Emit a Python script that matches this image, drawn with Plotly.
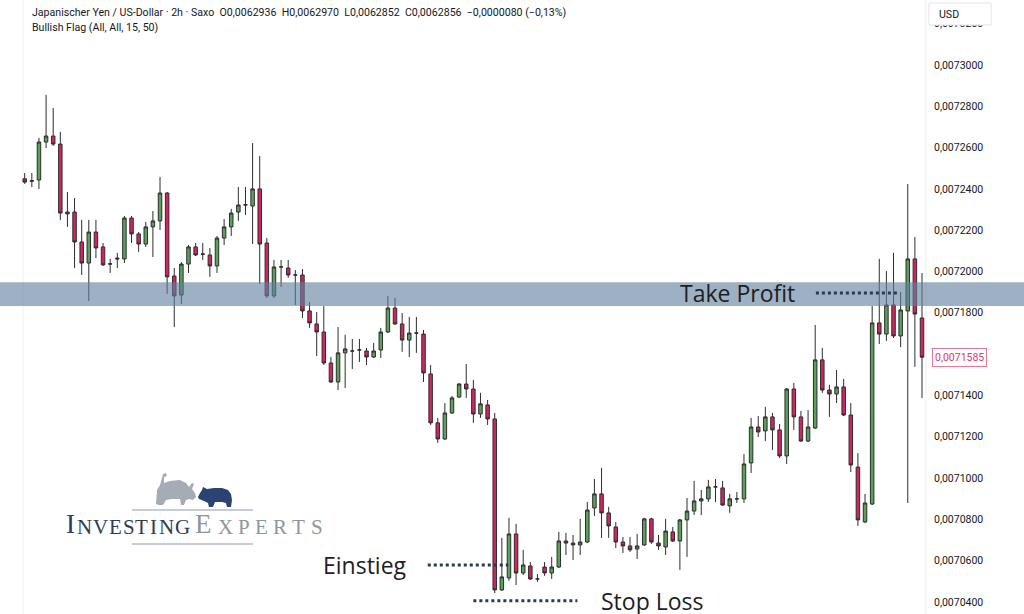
import plotly.graph_objects as go

# ---------------- data ----------------
bar_index = list(range(127))

opens = [
    0.0072449, 0.0072437, 0.0072443, 0.0072627, 0.0072656, 0.0072617, 0.0072279, 0.0072288, 0.0072143, 0.0072041,
    0.0072191, 0.0072119, 0.0072036, 0.0072065, 0.0072061, 0.0072259, 0.0072182, 0.0072133, 0.0072216, 0.0072245,
    0.0072380, 0.0071978, 0.0071886, 0.0072036, 0.0072119, 0.0072085, 0.0072080, 0.0072027, 0.0072162, 0.0072216,
    0.0072288, 0.0072322, 0.0072317, 0.0072400, 0.0072138, 0.0071882, 0.0072022, 0.0072017, 0.0071983, 0.0071983,
    0.0071809, 0.0071746, 0.0071707, 0.0071557, 0.0071465, 0.0071606, 0.0071615, 0.0071620, 0.0071615, 0.0071586,
    0.0071620, 0.0071707, 0.0071823, 0.0071746, 0.0071668, 0.0071702, 0.0071697, 0.0071504, 0.0071267, 0.0071189,
    0.0071315, 0.0071392, 0.0071455, 0.0071431, 0.0071310, 0.0071354, 0.0071286, 0.0070458, 0.0070516, 0.0070729,
    0.0070540, 0.0070574, 0.0070511, 0.0070569, 0.0070540, 0.0070569, 0.0070695, 0.0070685, 0.0070676, 0.0070690,
    0.0070855, 0.0070923, 0.0070831, 0.0070763, 0.0070690, 0.0070671, 0.0070656, 0.0070676, 0.0070802, 0.0070685,
    0.0070666, 0.0070739, 0.0070695, 0.0070797, 0.0070840, 0.0070889, 0.0070899, 0.0070957, 0.0070952, 0.0070865,
    0.0070899, 0.0070899, 0.0071073, 0.0071247, 0.0071228, 0.0071296, 0.0071233, 0.0071107, 0.0071431, 0.0071296,
    0.0071179, 0.0071242, 0.0071572, 0.0071426, 0.0071407, 0.0071441, 0.0071305, 0.0071053, 0.0070787, 0.0070874,
    0.0071751, 0.0071697, 0.0071838, 0.0071688, 0.0071809, 0.0072061, 0.0071775,
]
highs = [
    0.0072477, 0.0072477, 0.0072647, 0.0072855, 0.0072792, 0.0072676, 0.0072385, 0.0072356, 0.0072250, 0.0072250,
    0.0072250, 0.0072138, 0.0072061, 0.0072090, 0.0072269, 0.0072269, 0.0072191, 0.0072240, 0.0072293, 0.0072458,
    0.0072385, 0.0072017, 0.0072046, 0.0072128, 0.0072138, 0.0072138, 0.0072114, 0.0072172, 0.0072254, 0.0072303,
    0.0072409, 0.0072409, 0.0072622, 0.0072559, 0.0072162, 0.0072056, 0.0072056, 0.0072056, 0.0072007, 0.0072012,
    0.0071852, 0.0071804, 0.0071833, 0.0071586, 0.0071731, 0.0071693, 0.0071673, 0.0071673, 0.0071630, 0.0071654,
    0.0071727, 0.0071882, 0.0071872, 0.0071799, 0.0071780, 0.0071780, 0.0071717, 0.0071547, 0.0071291, 0.0071363,
    0.0071397, 0.0071460, 0.0071552, 0.0071475, 0.0071412, 0.0071378, 0.0071315, 0.0070710, 0.0070807, 0.0070778,
    0.0070652, 0.0070593, 0.0070535, 0.0070593, 0.0070618, 0.0070739, 0.0070734, 0.0070724, 0.0070802, 0.0070884,
    0.0070995, 0.0071049, 0.0070860, 0.0070787, 0.0070714, 0.0070714, 0.0070729, 0.0070807, 0.0070807, 0.0070724,
    0.0070802, 0.0070763, 0.0070802, 0.0070903, 0.0070986, 0.0070942, 0.0070991, 0.0070995, 0.0070986, 0.0070923,
    0.0070932, 0.0071116, 0.0071291, 0.0071300, 0.0071344, 0.0071315, 0.0071262, 0.0071436, 0.0071460, 0.0071325,
    0.0071329, 0.0071741, 0.0071630, 0.0071451, 0.0071523, 0.0071480, 0.0071363, 0.0071121, 0.0070923, 0.0071833,
    0.0072061, 0.0072002, 0.0072090, 0.0071901, 0.0072424, 0.0072167, 0.0071993,
]
lows = [
    0.0072424, 0.0072409, 0.0072400, 0.0072598, 0.0072608, 0.0072250, 0.0072216, 0.0072017, 0.0071983, 0.0071857,
    0.0072065, 0.0072027, 0.0071993, 0.0072017, 0.0072041, 0.0072138, 0.0072095, 0.0072119, 0.0072070, 0.0072201,
    0.0071891, 0.0071731, 0.0071843, 0.0071993, 0.0072075, 0.0072056, 0.0071974, 0.0071993, 0.0072128, 0.0072172,
    0.0072245, 0.0072274, 0.0072133, 0.0071940, 0.0071872, 0.0071872, 0.0071925, 0.0071969, 0.0071838, 0.0071775,
    0.0071727, 0.0071591, 0.0071547, 0.0071460, 0.0071426, 0.0071436, 0.0071528, 0.0071562, 0.0071547, 0.0071581,
    0.0071581, 0.0071702, 0.0071741, 0.0071611, 0.0071586, 0.0071606, 0.0071465, 0.0071257, 0.0071170, 0.0071184,
    0.0071310, 0.0071388, 0.0071388, 0.0071267, 0.0071291, 0.0071257, 0.0070443, 0.0070453, 0.0070502, 0.0070482,
    0.0070530, 0.0070506, 0.0070497, 0.0070526, 0.0070511, 0.0070564, 0.0070627, 0.0070603, 0.0070627, 0.0070685,
    0.0070816, 0.0070710, 0.0070710, 0.0070661, 0.0070637, 0.0070642, 0.0070608, 0.0070671, 0.0070681, 0.0070652,
    0.0070627, 0.0070690, 0.0070555, 0.0070618, 0.0070821, 0.0070821, 0.0070884, 0.0070884, 0.0070865, 0.0070831,
    0.0070879, 0.0070879, 0.0071024, 0.0071199, 0.0071179, 0.0071136, 0.0071097, 0.0071068, 0.0071233, 0.0071175,
    0.0071174, 0.0071237, 0.0071412, 0.0071296, 0.0071363, 0.0071300, 0.0071029, 0.0070768, 0.0070782, 0.0070869,
    0.0071649, 0.0071664, 0.0071678, 0.0071634, 0.0070879, 0.0071538, 0.0071388,
]
closes = [
    0.0072433, 0.0072440, 0.0072627, 0.0072656, 0.0072617, 0.0072283, 0.0072288, 0.0072143, 0.0072041, 0.0072191,
    0.0072114, 0.0072032, 0.0072037, 0.0072061, 0.0072259, 0.0072182, 0.0072133, 0.0072216, 0.0072245, 0.0072380,
    0.0071974, 0.0071882, 0.0072036, 0.0072119, 0.0072080, 0.0072084, 0.0072027, 0.0072162, 0.0072216, 0.0072283,
    0.0072322, 0.0072323, 0.0072400, 0.0072133, 0.0071882, 0.0072022, 0.0072022, 0.0071983, 0.0071983, 0.0071809,
    0.0071751, 0.0071707, 0.0071557, 0.0071465, 0.0071606, 0.0071625, 0.0071615, 0.0071620, 0.0071586, 0.0071615,
    0.0071707, 0.0071823, 0.0071746, 0.0071668, 0.0071702, 0.0071702, 0.0071509, 0.0071267, 0.0071189, 0.0071315,
    0.0071388, 0.0071455, 0.0071431, 0.0071310, 0.0071359, 0.0071286, 0.0070458, 0.0070521, 0.0070729, 0.0070540,
    0.0070579, 0.0070511, 0.0070511, 0.0070540, 0.0070569, 0.0070695, 0.0070685, 0.0070676, 0.0070690, 0.0070845,
    0.0070923, 0.0070831, 0.0070768, 0.0070690, 0.0070671, 0.0070652, 0.0070671, 0.0070802, 0.0070690, 0.0070671,
    0.0070743, 0.0070695, 0.0070797, 0.0070840, 0.0070889, 0.0070899, 0.0070957, 0.0070957, 0.0070869, 0.0070899,
    0.0070899, 0.0071068, 0.0071247, 0.0071223, 0.0071296, 0.0071233, 0.0071107, 0.0071431, 0.0071296, 0.0071179,
    0.0071247, 0.0071572, 0.0071426, 0.0071407, 0.0071441, 0.0071305, 0.0071063, 0.0070797, 0.0070879, 0.0071751,
    0.0071697, 0.0071838, 0.0071688, 0.0071814, 0.0072061, 0.0071794, 0.0071585,
]

tick_values = [0.00704, 0.00706, 0.00708, 0.00710, 0.00712, 0.00714, 0.00716, 0.00718,
               0.00720, 0.00722, 0.00724, 0.00726, 0.00728, 0.00730, 0.00732]
tick_labels = ["0,0070400", "0,0070600", "0,0070800", "0,0071000", "0,0071200", "0,0071400",
               "0,0071600", "0,0071800", "0,0072000", "0,0072200", "0,0072400", "0,0072600",
               "0,0072800", "0,0073000", "0,0073200"]

take_profit_zone = [0.0071833, 0.0071948]
take_profit_level = 0.0071896
entry_level = 0.0070579
stop_loss_level = 0.0070405
last_price = 0.0071585
last_price_label = "0,0071585"

header_line1 = ("Japanischer Yen / US-Dollar · 2h · Saxo\u00a0\u00a0O0,0062936\u00a0\u00a0H0,0062970"
                "\u00a0\u00a0L0,0062852\u00a0\u00a0C0,0062856\u00a0\u00a0−0,0000080 (−0,13%)")
header_line2 = "Bullish Flag (All, All, 15, 50)"

# ---------------- figure ----------------
W, H = 1024, 614
PLOT_W = 925


def px(x):
    return x / PLOT_W


def py(y):
    return 1 - y / H


fig = go.Figure()
fig.add_trace(go.Candlestick(
    x=bar_index, open=opens, high=highs, low=lows, close=closes,
    increasing=dict(fillcolor="#5aa25a", line=dict(color="#2d2d2d", width=1)),
    decreasing=dict(fillcolor="#d3255c", line=dict(color="#2d2d2d", width=1)),
    whiskerwidth=0, hoverinfo="skip", showlegend=False,
))

shapes = []
# faint frame lines
shapes.append(dict(type="line", xref="paper", yref="paper", x0=px(23), x1=px(23), y0=0, y1=1,
                   line=dict(color="#eef0f3", width=1), layer="below"))
shapes.append(dict(type="line", xref="paper", yref="paper", x0=px(926), x1=px(926), y0=0, y1=1,
                   line=dict(color="#eceff2", width=1), layer="below"))
# take profit zone
shapes.append(dict(type="rect", xref="paper", yref="y", x0=0, x1=W / PLOT_W,
                   y0=take_profit_zone[0], y1=take_profit_zone[1],
                   fillcolor="rgba(98,128,158,0.62)", line=dict(width=0), layer="above"))
# dotted level lines
dot_line = dict(color="#2b3957", width=3, dash="dot")
shapes.append(dict(type="line", xref="x", yref="y", x0=111.1, x1=122.9,
                   y0=take_profit_level, y1=take_profit_level, line=dot_line, layer="above"))
shapes.append(dict(type="line", xref="x", yref="y", x0=56.6, x1=67.9,
                   y0=entry_level, y1=entry_level, line=dot_line, layer="above"))
shapes.append(dict(type="line", xref="x", yref="y", x0=63.0, x1=77.6,
                   y0=stop_loss_level, y1=stop_loss_level, line=dot_line, layer="above"))
# USD box
shapes.append(dict(type="rect", xref="paper", yref="paper", x0=px(929), x1=px(991), y0=py(25), y1=py(3),
                   fillcolor="white", line=dict(color="#e0e3eb", width=1), layer="above"))
# logo lines
for yy in (510, 544):
    shapes.append(dict(type="line", xref="paper", yref="paper", x0=px(132), x1=px(253), y0=py(yy), y1=py(yy),
                       line=dict(color="#c9cdd3", width=2), layer="above"))


def poly(points, color):
    d = "M " + " L ".join(f"{px(a):.5f},{py(b):.5f}" for a, b in points) + " Z"
    return dict(type="path", xref="paper", yref="paper", path=d, fillcolor=color,
                line=dict(width=0), layer="above")


bull = [(156, 504), (157, 490), (160, 485), (162, 478), (163, 474), (166, 473), (167, 476), (164, 477),
        (164, 483), (170, 481), (180, 480), (186, 483), (189, 487), (192, 483), (194, 484), (192, 489),
        (195, 493), (196, 497), (193, 500), (189, 499), (186, 500), (184, 505), (181, 505), (180, 499),
        (172, 499), (166, 500), (163, 505), (159, 505)]
bear = [(198, 497), (200, 493), (202, 490), (203, 487), (205, 488), (207, 489), (214, 488), (222, 488),
        (228, 490), (231, 494), (232, 500), (231, 507), (227, 507), (226, 503), (222, 502), (215, 502),
        (213, 507), (209, 507), (208, 503), (204, 501), (199, 499)]
shapes.append(poly(bull, "#a5acb5"))
shapes.append(poly(bear, "#2c4272"))

annotations = []
hdr_font = dict(family="Roboto, Liberation Sans, sans-serif", size=10.6, color="#131722")
annotations.append(dict(text=header_line1, xref="paper", yref="paper", x=px(30), y=py(12),
                        xanchor="left", yanchor="middle", showarrow=False, font=hdr_font))
annotations.append(dict(text=header_line2, xref="paper", yref="paper", x=px(30), y=py(27),
                        xanchor="left", yanchor="middle", showarrow=False, font=hdr_font))
annotations.append(dict(text="USD", xref="paper", yref="paper", x=px(937), y=py(14),
                        xanchor="left", yanchor="middle", showarrow=False, font=hdr_font))
annotations.append(dict(text=last_price_label, xref="paper", yref="y", x=px(959), y=last_price,
                        xanchor="center", yanchor="middle", showarrow=False,
                        font=dict(family="Roboto, sans-serif", size=10.5, color="#d2416c"),
                        bgcolor="white", bordercolor="#e17c9b", borderwidth=1, borderpad=2))

lbl_font = dict(family="Open Sans, sans-serif", size=23, color="#1e1e1e")
annotations.append(dict(text="Take Profit", xref="x", yref="y", x=100.1, y=take_profit_level,
                        xanchor="center", yanchor="middle", showarrow=False, font=lbl_font))
annotations.append(dict(text="Einstieg", xref="x", yref="y", x=47.8, y=entry_level,
                        xanchor="center", yanchor="middle", showarrow=False, font=lbl_font))
annotations.append(dict(text="Stop Loss", xref="x", yref="y", x=88.1, y=stop_loss_level,
                        xanchor="center", yanchor="middle", showarrow=False, font=lbl_font))

# logo lettering (Investing Experts)
logo_letters = list("INVESTINGEXPERTS")
logo_x = [70.7, 84, 100, 115, 128.5, 141.7, 153.5, 166, 182, 203, 225, 244, 261.7, 280, 298.3, 316.7]
for i, (ch, lx) in enumerate(zip(logo_letters, logo_x)):
    big = i in (0, 9)
    color = "#2f3b57" if i < 9 else "#8f96a0"
    annotations.append(dict(text=ch, xref="paper", yref="paper", x=px(lx), y=py(541),
                            xanchor="center", yanchor="bottom", showarrow=False,
                            font=dict(family="Liberation Serif, serif", size=27 if big else 21, color=color)))

fig.update_layout(
    width=W, height=H, autosize=False,
    margin=dict(l=0, r=W - PLOT_W, t=0, b=0),
    paper_bgcolor="white", plot_bgcolor="white",
    showlegend=False,
    xaxis=dict(visible=False, range=[-3.47, 126.42], rangeslider=dict(visible=False), fixedrange=True),
    yaxis=dict(side="right", range=[0.00703414, 0.00733148], tickvals=tick_values, ticktext=tick_labels,
               showgrid=False, zeroline=False, showline=False, ticks="", ticklabelstandoff=8,
               tickfont=dict(family="Roboto, Liberation Sans, sans-serif", size=10.5, color="#131722")),
    shapes=shapes, annotations=annotations,
)

fig.write_html("out.html", config={"displayModeBar": False},
               post_script="document.body.style.margin='0';document.body.style.overflow='hidden';")
